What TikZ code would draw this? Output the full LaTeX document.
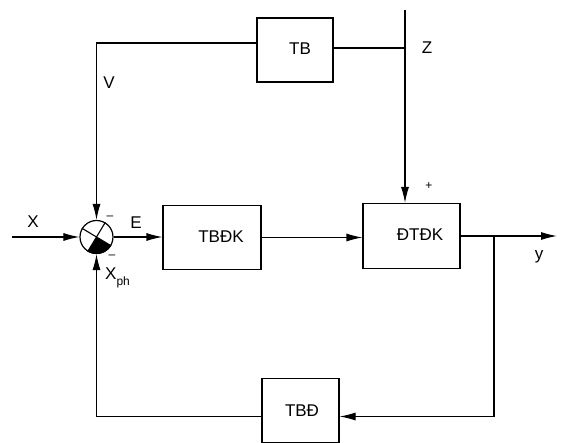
\documentclass[tikz,border=0pt]{standalone}
\usepackage{fontspec}
\setmainfont{Liberation Sans}
\usetikzlibrary{arrows.meta}
\begin{document}
\begin{tikzpicture}[x=1pt,y=-1pt,
  blk/.style={draw, line width=1.1pt, inner sep=0pt},
  lbl/.style={font=\fontsize{17}{17}\selectfont, inner sep=0pt},
  sgn/.style={font=\fontsize{12}{12}\selectfont, inner sep=0pt},
  wire/.style={line width=1.1pt},
  arr/.style={wire, -{Latex[length=16pt,width=8pt]}}]
\useasboundingbox (0,0) rectangle (566,443);
% blocks
\node[blk, minimum width=76pt, minimum height=64pt] (tb) at (295,50) {};
\node[lbl] (tbt) at (300,49) {TB};
\node[blk, minimum width=98pt, minimum height=64pt] (tbdk) at (212,237.5) {};
\node[lbl] (tbdkt) at (221,237) {TBĐK};
\node[blk, minimum width=97pt, minimum height=65pt] (dtdk) at (411.5,236) {};
\node[lbl] (dtdkt) at (420,235) {ĐTĐK};
\node[blk, minimum width=77pt, minimum height=64pt] (tbd) at (300.5,410.5) {};
\node[lbl] (tbdt) at (302,411) {TBĐ};
% summing junction
\node[circle, draw, line width=1.2pt, minimum size=33pt, inner sep=0pt] (sum) at (96.5,237) {};
\fill (sum.center) -- (sum.-121) -- (sum.-106) -- (sum.-91) -- (sum.-76) -- (sum.-61) -- (sum.-46) -- (sum.-31) -- cycle;
\draw[wire] (sum.59) -- (sum.-121);
\draw[wire] (sum.149) -- (sum.-31);
% coordinates
\coordinate (xin) at (12,237);
\coordinate (ztop) at (405,10);
\coordinate (yout) at (557,236);
\coordinate (br) at (494,236);
% connectors
\draw[arr] (xin) -- (sum.west);
\draw[arr] ([yshift=7pt]tb.west) -| (sum.north);
\draw[wire] ([yshift=2pt]tb.east) -- ([yshift=2pt]tb.east -| ztop);
\draw[arr] (ztop) -- (ztop |- dtdk.north);
\draw[arr] (sum.east) -- (sum.east -| tbdk.west);
\draw[arr] (tbdk.east) -- (tbdk.east -| dtdk.west);
\draw[arr] (dtdk.east) -- (yout);
\draw[arr] (br) |- ([yshift=-6pt]tbd.east);
\draw[arr] ([yshift=-6pt]tbd.west) -| (sum.south);
% labels
\node[lbl] (lx) at (33,222) {X};
\node[lbl] (lv) at (109,83) {V};
\node[lbl] (le) at (136,223) {E};
\node[lbl] (lz) at (427,48) {Z};
\node[lbl] (ly) at (539,257) {y};
\node[sgn] (lp) at (429,186) {+};
\node[sgn] (lm1) at (110,218) {\textendash};
\node[sgn] (lm2) at (112,257) {\textendash};
\node[lbl, anchor=west] (lxph) at (105,278) {X\raisebox{-0.35em}{\fontsize{12}{12}\selectfont ph}};
\end{tikzpicture}
\end{document}
